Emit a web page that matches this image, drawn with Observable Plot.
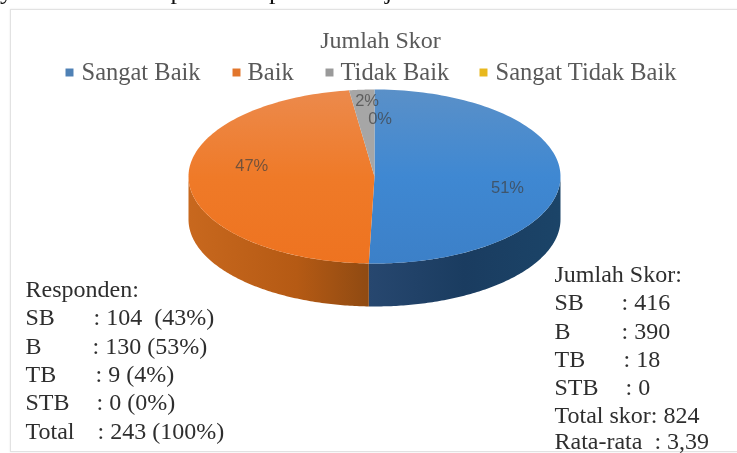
<!DOCTYPE html>
<html>
<head>
<meta charset="utf-8">
<script src="https://cdn.jsdelivr.net/npm/d3@7"></script>
<script src="https://cdn.jsdelivr.net/npm/@observablehq/plot@0.6"></script>
<style>
  html, body { margin: 0; padding: 0; background: #fff; overflow: hidden; }
  #page { position: relative; width: 737px; height: 453px; overflow: hidden; }
  #clip { position: absolute; left: 0; top: -24px; white-space: pre; font: 26px "Liberation Serif", serif; color: #111; word-spacing: 11px; filter: blur(0.5px); }
  #card { position: absolute; left: 10px; top: 9px; right: -5px; bottom: 1px; border: 1px solid #e2e2e2; box-shadow: 0 0 2px #e8e8e8; }
  #chart { position: absolute; left: 0; top: 0; filter: blur(0.7px); }
  #chart svg { background: transparent; }
</style>
</head>
<body>
<div id="page">
  <div id="clip"></div>
  <div id="card"></div>
  <div id="chart"></div>
</div>
<script>
const clippedSentence = "yaratan terhadap neon pada ine jadi neon adaan dari kedua";
const chartTitle = "Jumlah Skor";
const categories = ["Sangat Baik", "Baik", "Tidak Baik", "Sangat Tidak Baik"];
const scores = [416, 390, 18, 0];
const percentLabels = ["51%", "47%", "2%", "0%"];
const swatchColors = ["#4f81b5", "#e2762c", "#9a9a9a", "#e8b81e"];

const respondenHeading = "Responden:";
const respondenLabels = ["SB", "B", "TB", "STB", "Total"];
const respondenValues = [": 104  (43%)", ": 130 (53%)", ": 9 (4%)", ": 0 (0%)", ": 243 (100%)"];
const skorHeading = "Jumlah Skor:";
const skorLabels = ["SB", "B", "TB", "STB"];
const skorValues = [": 416", ": 390", ": 18", ": 0"];
const skorTotal = "Total skor: 824";
const skorMean = "Rata-rata  : 3,39";

// layout (pixels / unit-ellipse), separate from the data
const labelX = [0.715, -0.66, -0.04, 0.03];
const labelY = [0.126, -0.126, -0.87, -0.66];
const legendSwatchX = [69, 236, 329, 483];
const legendTextX = [81, 247, 340, 495];
const depth = 0.494;
const textSize = 24;
const serif = "Liberation Serif";
const inkText = "#2e2e2e";

document.getElementById("clip").textContent = clippedSentence;

const arcs = d3.pie().value(d => d).sort(null).startAngle(0).endAngle(2 * Math.PI)(scores);
const rim = (a, off = 0) => ({ x: Math.sin(a), y: -Math.cos(a) + off });
const sweep = (a0, a1, off = 0) => d3.range(0, 121).map(i => rim(a0 + (a1 - a0) * i / 120, off));
const face = arc => [{ x: 0, y: 0 }, ...sweep(arc.startAngle, arc.endAngle)];
const side = arc => {
  const a0 = Math.max(arc.startAngle, Math.PI / 2);
  const a1 = Math.min(arc.endAngle, 3 * Math.PI / 2);
  if (a1 <= a0) return [];
  return [...sweep(a0, a1), ...sweep(a0, a1, depth).reverse()];
};

function gradient(defs, id, x2, y2, stops) {
  const g = defs.append("linearGradient").attr("id", id)
    .attr("x1", 0).attr("y1", 0).attr("x2", x2).attr("y2", y2);
  stops.forEach(([o, c]) => g.append("stop").attr("offset", o).attr("stop-color", c));
}
const gradients = () => {
  const defs = d3.create("svg:defs");
  gradient(defs, "topBlue", 0, 1, [[0, "#5a90c8"], [0.5, "#3f88d2"], [1, "#3c80c8"]]);
  gradient(defs, "topOrange", 0, 1, [[0, "#ec8a4c"], [0.5, "#ef7a28"], [1, "#ee7320"]]);
  gradient(defs, "sideBlue", 1, 0, [[0, "#27476f"], [0.5, "#1a3c60"], [1, "#1b4468"]]);
  gradient(defs, "sideOrange", 1, 0, [[0, "#c8681e"], [0.6, "#b55a14"], [1, "#8f4a12"]]);
  return defs.node();
};
const topFills = ["url(#topBlue)", "url(#topOrange)", "#a6a6a6", "#e8b81e"];
const sideFills = ["url(#sideBlue)", "url(#sideOrange)", "#6b6b6b", "#a07f10"];

const label = (t, dx, dy, o = {}) => Plot.text([t], {
  text: d => d, frameAnchor: "top-left", textAnchor: "start", lineAnchor: "middle",
  dx, dy, fontFamily: serif, fontSize: textSize, fill: inkText, ...o
});
const rowsY0 = 317, rowsStep = 28.4, rightY0 = 302;

const marks = [
  gradients,
  ...arcs.map((a, i) => Plot.line(side(a), { x: "x", y: "y", fill: sideFills[i], stroke: "none" })),
  ...arcs.map((a, i) => Plot.line(face(a), { x: "x", y: "y", fill: topFills[i], stroke: "none" })),
  Plot.text(percentLabels, {
    x: (d, i) => labelX[i], y: (d, i) => labelY[i], text: d => d,
    fontFamily: "Liberation Sans", fontSize: 16.5, fill: "#404040", fillOpacity: 0.7
  }),
  label(chartTitle, 380, 40, { textAnchor: "middle", fontSize: 24, fill: "#595959" }),
  ...categories.map((c, i) => Plot.dot([c], {
    frameAnchor: "top-left", dx: legendSwatchX[i], dy: 72, symbol: "square", r: 4.5, fill: swatchColors[i], stroke: "none"
  })),
  ...categories.map((c, i) => label(c, legendTextX[i], 72, { fontSize: 24.5, fill: "#595959" })),
  label(respondenHeading, 25, 289),
  ...respondenLabels.map((t, i) => label(t, 25, rowsY0 + i * rowsStep)),
  ...respondenValues.map((t, i) => label(t.replace("  ", "\u00a0\u00a0"), [93, 92, 95, 96, 97][i], rowsY0 + i * rowsStep)),
  label(skorHeading, 554, 274),
  ...skorLabels.map((t, i) => label(t, 554, rightY0 + i * rowsStep)),
  ...skorValues.map((t, i) => label(t, [621, 621, 623, 625][i], rightY0 + i * rowsStep)),
  label(skorTotal, 554, 415),
  label(skorMean.replace("  ", "\u00a0\u00a0"), 554, 441)
];

const plot = Plot.plot({
  width: 737, height: 453,
  margin: 0,
  x: { axis: null, domain: [-1, 1], range: [188, 560] },
  y: { axis: null, domain: [-1, 1], range: [89, 263] },
  style: { background: "transparent" },
  marks
});
document.getElementById("chart").append(plot);
</script>
</body>
</html>
